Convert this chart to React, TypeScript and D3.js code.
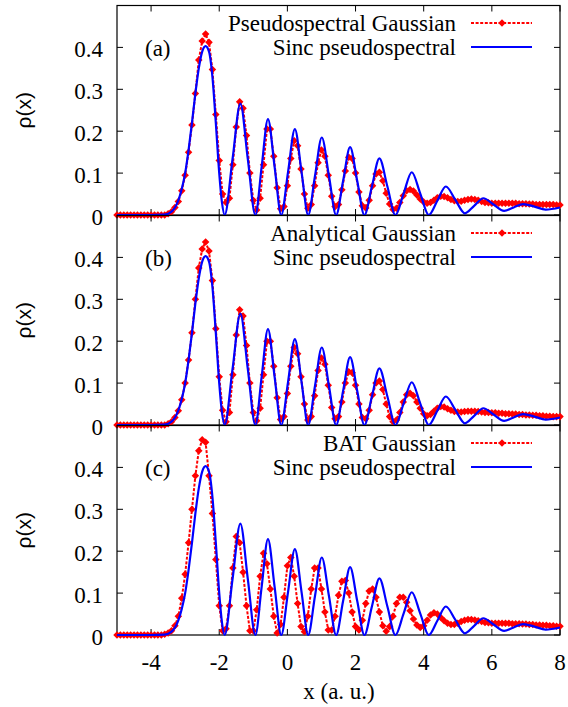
import React, { useEffect, useRef } from "react";
import * as d3 from "d3";

// red curves are sampled every 0.1 a.u. from -5 to 8
const redA = [
  0, 0, 0, 0, 0, 0, 0, 0, 0, 0, 0, 0, 0, 0, 0,
  0.003, 0.008, 0.018, 0.032, 0.058, 0.095, 0.15, 0.215, 0.29, 0.37,
  0.415, 0.432, 0.412, 0.347, 0.24, 0.13, 0.05, 0.03, 0.04, 0.12,
  0.21, 0.27, 0.255, 0.19, 0.1, 0.035, 0.012, 0.04, 0.12, 0.205,
  0.205, 0.14, 0.065, 0.015, 0.02, 0.07, 0.135, 0.177, 0.165, 0.11,
  0.05, 0.016, 0.025, 0.07, 0.125, 0.155, 0.14, 0.095, 0.045, 0.02,
  0.025, 0.06, 0.105, 0.138, 0.135, 0.1, 0.055, 0.022, 0.017, 0.035,
  0.07, 0.098, 0.102, 0.082, 0.052, 0.026, 0.013, 0.016, 0.03, 0.046,
  0.058, 0.061, 0.057, 0.048, 0.038, 0.031, 0.028, 0.03, 0.035, 0.041,
  0.045, 0.044, 0.041, 0.037, 0.034, 0.032, 0.033, 0.035, 0.037, 0.038,
  0.037, 0.035, 0.032, 0.03, 0.029, 0.028, 0.028, 0.028, 0.028, 0.028,
  0.028, 0.028, 0.028, 0.027, 0.027, 0.027, 0.026, 0.026, 0.025, 0.025,
  0.025, 0.025, 0.025, 0.025, 0.024, 0.024,
];

const redB = [
  0, 0, 0, 0, 0, 0, 0, 0, 0, 0, 0, 0, 0, 0, 0,
  0.003, 0.008, 0.018, 0.034, 0.06, 0.1, 0.155, 0.22, 0.3, 0.375,
  0.42, 0.437, 0.415, 0.345, 0.23, 0.115, 0.035, 0.008, 0.03, 0.12,
  0.215, 0.275, 0.26, 0.19, 0.1, 0.03, 0.01, 0.04, 0.12, 0.2,
  0.2, 0.14, 0.065, 0.013, 0.02, 0.075, 0.14, 0.185, 0.17, 0.115,
  0.05, 0.012, 0.02, 0.07, 0.13, 0.16, 0.145, 0.095, 0.042, 0.015,
  0.02, 0.055, 0.1, 0.127, 0.125, 0.095, 0.05, 0.018, 0.015, 0.035,
  0.072, 0.1, 0.105, 0.085, 0.05, 0.02, 0.008, 0.012, 0.03, 0.055,
  0.072, 0.076, 0.07, 0.055, 0.04, 0.027, 0.022, 0.025, 0.033, 0.04,
  0.044, 0.043, 0.039, 0.035, 0.032, 0.031, 0.031, 0.032, 0.033, 0.033,
  0.033, 0.032, 0.031, 0.03, 0.03, 0.029, 0.029, 0.028, 0.028, 0.027,
  0.027, 0.026, 0.026, 0.025, 0.025, 0.024, 0.024, 0.023, 0.023, 0.022,
  0.022, 0.021, 0.021, 0.02, 0.02, 0.02,
];

const redC = [
  0, 0, 0, 0, 0, 0, 0, 0, 0, 0, 0, 0, 0, 0, 0.002,
  0.005, 0.01, 0.022, 0.045, 0.088, 0.145, 0.22, 0.3, 0.38, 0.44,
  0.466, 0.46, 0.38, 0.29, 0.18, 0.07, 0.01, 0.015, 0.07, 0.16,
  0.235, 0.22, 0.15, 0.07, 0.01, 0.01, 0.06, 0.14, 0.195, 0.17,
  0.11, 0.045, 0.005, 0.025, 0.09, 0.165, 0.185, 0.14, 0.075, 0.02,
  0.008, 0.045, 0.11, 0.16, 0.16, 0.11, 0.055, 0.012, 0.012, 0.045,
  0.095, 0.128, 0.13, 0.1, 0.055, 0.02, 0.012, 0.035, 0.075, 0.105,
  0.11, 0.09, 0.055, 0.022, 0.009, 0.02, 0.045, 0.075, 0.09, 0.09,
  0.078, 0.058, 0.038, 0.024, 0.018, 0.022, 0.035, 0.048, 0.053, 0.05,
  0.042, 0.034, 0.028, 0.025, 0.025, 0.028, 0.032, 0.035, 0.037, 0.037,
  0.036, 0.034, 0.032, 0.03, 0.029, 0.028, 0.028, 0.028, 0.028, 0.028,
  0.028, 0.027, 0.027, 0.027, 0.026, 0.026, 0.025, 0.025, 0.024, 0.024,
  0.023, 0.023, 0.022, 0.022, 0.021, 0.021,
];

// sinc pseudospectral reference (same in all panels)
const blueX = [
  -5, -4, -3.6, -3.4, -3.2, -3.1, -3.0, -2.9, -2.8, -2.7, -2.6, -2.5, -2.4,
  -2.3, -2.2, -2.1, -2.0, -1.92, -1.84, -1.61, -1.38, -1.16, -0.94, -0.755,
  -0.57, -0.375, -0.18, 0.02, 0.22, 0.415, 0.61, 0.81, 1.01, 1.22, 1.43,
  1.635, 1.84, 2.05, 2.26, 2.48, 2.7, 2.935, 3.17, 3.41, 3.65, 3.9, 4.15,
  4.4, 4.65, 4.93, 5.21, 5.48, 5.75, 6.05, 6.36, 6.64, 6.92, 7.25, 7.58, 8,
];
const blueY = [
  0, 0, 0.001, 0.008, 0.035, 0.062, 0.1, 0.155, 0.22, 0.29, 0.35, 0.39, 0.403,
  0.39, 0.33, 0.22, 0.1, 0.03, 0, 0.133, 0.266, 0.133, 0, 0.115,
  0.229, 0.115, 0, 0.103, 0.205, 0.103, 0, 0.093, 0.185, 0.093, 0,
  0.081, 0.162, 0.081, 0, 0.068, 0.135, 0.068, 0, 0.051, 0.102, 0.051, 0,
  0.034, 0.068, 0.036, 0.004, 0.022, 0.04, 0.025, 0.01, 0.018, 0.026, 0.02, 0.013, 0.018,
];

const panelLabels = ["(a)", "(b)", "(c)"];
const redNames = ["Pseudospectral Gaussian", "Analytical Gaussian", "BAT Gaussian"];
const blueName = "Sinc pseudospectral";
const yTicks = [0, 0.1, 0.2, 0.3, 0.4];
const xTicks = [-4, -2, 0, 2, 4, 6, 8];

const App = () => {
  const ref = useRef<SVGSVGElement>(null);

  useEffect(() => {
    const svg = d3.select(ref.current);
    svg.selectAll("*").remove();

    const serif = "'Liberation Serif', 'Times New Roman', serif";
    const fs = 23;
    const left = 117;
    const right = 560;
    const bottoms = [215, 425, 635];
    const panelH = 209.5;

    const x = d3.scaleLinear().domain([-5, 8]).range([left, right]);
    const grid = d3.range(redA.length).map((i) => -5 + i * 0.1);
    const reds = [redA, redB, redC];
    const blue = blueX.map((v, i) => [v, blueY[i]] as [number, number]);
    const diamond = d3.symbol().type(d3.symbolDiamond2).size(36);

    bottoms.forEach((bottom, p) => {
      const top = bottom - panelH;
      const y = d3.scaleLinear().domain([0, 0.5]).range([bottom, top]);
      const g = svg.append("g");

      // frame
      g.append("rect")
        .attr("x", left)
        .attr("y", top)
        .attr("width", right - left)
        .attr("height", panelH)
        .attr("fill", "none")
        .attr("stroke", "black")
        .attr("stroke-width", 1.2);

      // mirrored inward ticks
      yTicks.forEach((t) => {
        g.append("line").attr("x1", left).attr("x2", left + 6)
          .attr("y1", y(t)).attr("y2", y(t)).attr("stroke", "black");
        g.append("line").attr("x1", right).attr("x2", right - 6)
          .attr("y1", y(t)).attr("y2", y(t)).attr("stroke", "black");
        g.append("text")
          .attr("x", 103)
          .attr("y", y(t) + 9.5)
          .attr("text-anchor", "end")
          .attr("font-family", serif)
          .attr("font-size", fs)
          .text(t === 0 ? "0" : t.toFixed(1));
      });
      xTicks.forEach((t) => {
        g.append("line").attr("x1", x(t)).attr("x2", x(t))
          .attr("y1", bottom).attr("y2", bottom - 6).attr("stroke", "black");
        g.append("line").attr("x1", x(t)).attr("x2", x(t))
          .attr("y1", top).attr("y2", top + 6).attr("stroke", "black");
      });

      // y label
      g.append("text")
        .attr("transform", `translate(24,${(top + bottom) / 2}) rotate(-90)`)
        .attr("text-anchor", "middle")
        .attr("dy", "0.35em")
        .attr("font-family", "'Liberation Sans', Arial, sans-serif")
        .attr("font-size", 21)
        .text("ρ(x)");

      // red series
      const redLine = d3.line<number>()
        .x((d, i) => x(grid[i]))
        .y((d) => y(d));
      g.append("path")
        .datum(reds[p])
        .attr("d", redLine)
        .attr("fill", "none")
        .attr("stroke", "#ff0000")
        .attr("stroke-width", 2)
        .attr("stroke-dasharray", "3,1.6");
      g.selectAll(".pt")
        .data(reds[p])
        .enter()
        .append("path")
        .attr("class", "pt")
        .attr("d", diamond)
        .attr("transform", (d, i) => `translate(${x(grid[i])},${y(d)})`)
        .attr("fill", "#ff0000");

      // blue series
      const blueLine = d3.line()
        .x((d) => x(d[0]))
        .y((d) => y(d[1]))
        .curve(d3.curveMonotoneX);
      g.append("path")
        .datum(blue)
        .attr("d", blueLine)
        .attr("fill", "none")
        .attr("stroke", "#0000ff")
        .attr("stroke-width", 2.2);

      // panel label
      g.append("text")
        .attr("x", 145)
        .attr("y", top + 50)
        .attr("font-family", serif)
        .attr("font-size", fs)
        .text(panelLabels[p]);

      // legend
      const rows = [top + 17.5, top + 41.5];
      g.append("text")
        .attr("x", 456).attr("y", rows[0] + 7.5)
        .attr("text-anchor", "end")
        .attr("font-family", serif).attr("font-size", fs)
        .text(redNames[p]);
      g.append("line")
        .attr("x1", 471).attr("x2", 532).attr("y1", rows[0]).attr("y2", rows[0])
        .attr("stroke", "#ff0000").attr("stroke-width", 2)
        .attr("stroke-dasharray", "3,1.6");
      g.append("path")
        .attr("d", diamond)
        .attr("transform", `translate(502,${rows[0]})`)
        .attr("fill", "#ff0000");
      g.append("text")
        .attr("x", 456).attr("y", rows[1] + 7.5)
        .attr("text-anchor", "end")
        .attr("font-family", serif).attr("font-size", fs)
        .text(blueName);
      g.append("line")
        .attr("x1", 471).attr("x2", 532).attr("y1", rows[1]).attr("y2", rows[1])
        .attr("stroke", "#0000ff").attr("stroke-width", 2.2);
    });

    // x tick labels and title
    xTicks.forEach((t) => {
      svg.append("text")
        .attr("x", x(t))
        .attr("y", 670)
        .attr("text-anchor", "middle")
        .attr("font-family", serif)
        .attr("font-size", fs)
        .text(t);
    });
    svg.append("text")
      .attr("x", 339)
      .attr("y", 699)
      .attr("text-anchor", "middle")
      .attr("font-family", serif)
      .attr("font-size", fs)
      .text("x (a. u.)");
  }, []);

  return (
    <svg
      ref={ref}
      width={568}
      height={707}
      style={{ position: "absolute", left: 0, top: 0, background: "white" }}
    />
  );
};

export default App;
